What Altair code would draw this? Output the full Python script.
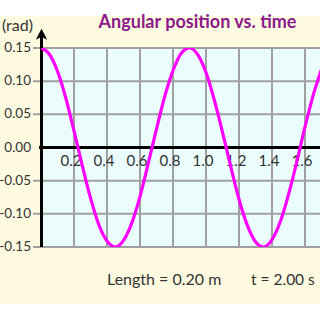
import altair as alt
import pandas as pd

# ---- data ----
t_vals = [0.00, 0.05, 0.10, 0.15, 0.20, 0.25, 0.30, 0.35, 0.40, 0.45, 0.50, 0.55,
          0.60, 0.65, 0.70, 0.75, 0.80, 0.85, 0.90, 0.95, 1.00, 1.05, 1.10, 1.15,
          1.20, 1.25, 1.30, 1.35, 1.40, 1.45, 1.50, 1.55, 1.60, 1.65, 1.70]
theta_vals = [0.150, 0.141, 0.115, 0.075, 0.025, -0.027, -0.076, -0.116, -0.141, -0.150,
              -0.140, -0.114, -0.074, -0.024, 0.028, 0.077, 0.116, 0.142, 0.150, 0.140,
              0.113, 0.072, 0.023, -0.029, -0.078, -0.117, -0.142, -0.150, -0.139, -0.112,
              -0.071, -0.022, 0.031, 0.079, 0.118]
x_ticks = [0.2, 0.4, 0.6, 0.8, 1.0, 1.2, 1.4, 1.6]
x_tick_labels = ["0.2", "0.4", "0.6", "0.8", "1.0", "1.2", "1.4", "1.6"]
y_grid = [0.15, 0.10, 0.05, -0.05, -0.10, -0.15]
y_ticks = [0.15, 0.10, 0.05, 0.00, -0.05, -0.10, -0.15]
y_tick_labels = ["0.15", "0.10", "0.05", "0.00", "-0.05", "-0.10", "-0.15"]

title_text = "Angular position vs. time"
unit_text = "(rad)"
length_text = "Length = 0.20 m"
time_text = "t = 2.00 s"

W, H = 279, 199
FONT = "Lato"

curve = pd.DataFrame({"t": t_vals, "theta": theta_vals})
xt = pd.DataFrame({"t": x_ticks, "lab": x_tick_labels})
yg = pd.DataFrame({"theta": y_grid})
yt = pd.DataFrame({"theta": y_ticks, "lab": y_tick_labels})
one = pd.DataFrame({"a": [0]})

xs = alt.Scale(domain=[0, W / 165.0], nice=False, zero=False)
ys = alt.Scale(domain=[-0.15, 0.15], nice=False, zero=False)

yellow = alt.Chart(one).mark_rect(color="#fffbe1").encode(
    x=alt.value(-41), x2=alt.value(W), y=alt.value(-32), y2=alt.value(256))
cyan = alt.Chart(one).mark_rect(color="#eafcfc").encode(
    x=alt.value(0), x2=alt.value(W), y=alt.value(0), y2=alt.value(H))

vgrid = alt.Chart(xt).mark_rule(color="#a0a0a0", strokeWidth=2).encode(
    x=alt.X("t:Q", scale=xs, axis=None), y=alt.value(0), y2=alt.value(H))
hgrid = alt.Chart(yg).mark_rule(color="#a0a0a0", strokeWidth=2).encode(
    y=alt.Y("theta:Q", scale=ys, axis=None), x=alt.value(-8), x2=alt.value(W))

xlabels = alt.Chart(xt).mark_text(font=FONT, fontSize=15, color="#333333",
                                  baseline="alphabetic", dy=18, dx=-3).encode(
    x=alt.X("t:Q", scale=xs, axis=None), y=alt.value(H / 2), text="lab:N")

ylabels = alt.Chart(yt).mark_text(font=FONT, fontSize=13.5, color="#333333",
                                  align="right", baseline="middle").encode(
    y=alt.Y("theta:Q", scale=ys, axis=None), x=alt.value(-10), text="lab:N")

zero_line = alt.Chart(one).mark_rule(color="black", strokeWidth=3).encode(
    y=alt.value(H / 2), x=alt.value(-2), x2=alt.value(W))
y_axis = alt.Chart(one).mark_rule(color="black", strokeWidth=3).encode(
    x=alt.value(0.5), y=alt.value(-14), y2=alt.value(H))
arrow = alt.Chart(one).mark_point(
    shape="M0,-1 L1,0.9 L0,0.4 L-1,0.9 Z", filled=True, color="black", size=130, opacity=1
).encode(x=alt.value(0.5), y=alt.value(-13.5))

line = alt.Chart(curve).mark_line(color="#ff00ff", strokeWidth=3.2, interpolate="monotone",
                                  clip=True).encode(
    x=alt.X("t:Q", scale=xs, axis=None), y=alt.Y("theta:Q", scale=ys, axis=None))

def txt(s, x, y, size, color, weight="normal", align="left"):
    return alt.Chart(one).mark_text(text=s, font=FONT, fontSize=size, color=color,
                                    fontWeight=weight, align=align,
                                    baseline="alphabetic").encode(
        x=alt.value(x), y=alt.value(y))

title = txt(title_text, 156.5, -20, 18, "#8b1a8b", "bold", "center")
unit = txt(unit_text, -8, -17, 16, "#333333", align="right")
len_t = txt(length_text, 66, 237, 16, "#333333")
time_t = txt(time_text, 210, 237, 15.5, "#333333")

chart = alt.layer(
    yellow, cyan, vgrid, hgrid, xlabels, zero_line, y_axis, arrow, ylabels,
    line, title, unit, len_t, time_t
).resolve_scale(x="shared", y="shared").properties(
    width=W, height=H,
    autosize=alt.AutoSizeParams(type="none"),
    padding={"left": 41, "top": 48, "right": 0, "bottom": 73},
    background="white",
).configure_view(stroke=None)

chart.save("out.html", embed_options={"renderer": "svg", "actions": False})
